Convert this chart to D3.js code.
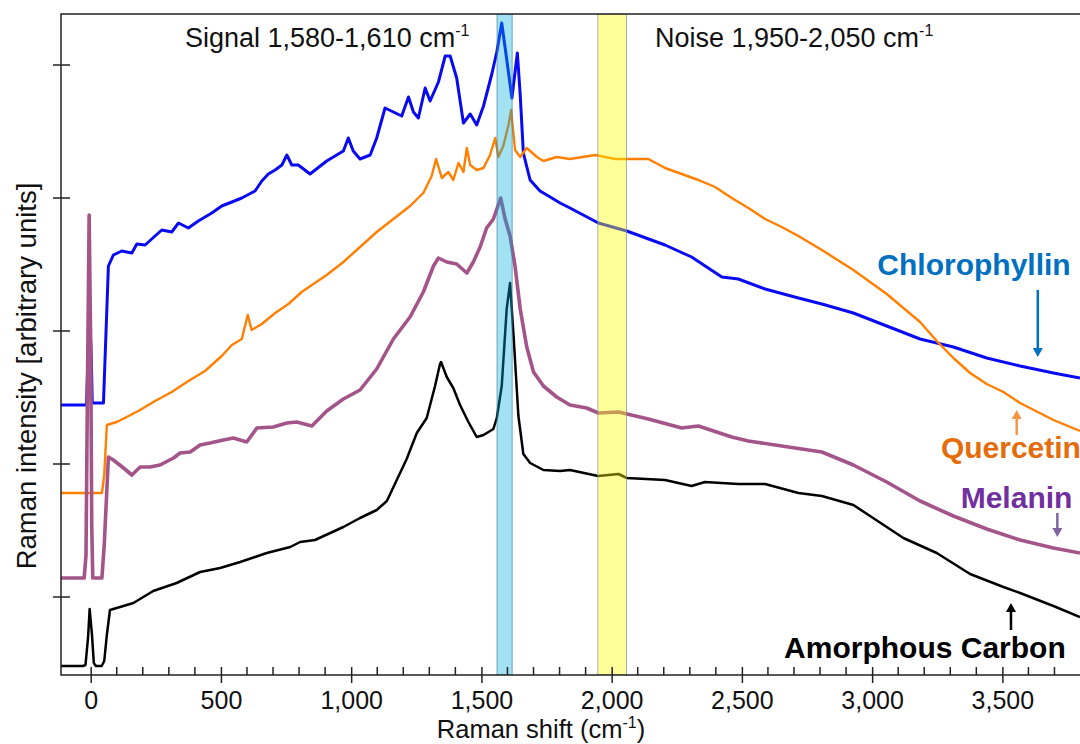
<!DOCTYPE html>
<html><head><meta charset="utf-8">
<script src="https://cdn.jsdelivr.net/npm/d3@7"></script>
<style>html,body{margin:0;padding:0;background:#fff;} svg{display:block;font-family:"Liberation Sans",Arial,sans-serif;}</style>
</head><body><svg id="c" width="1080" height="744"></svg>
<script>
// ---- data (Raman shift in cm-1, intensity in arbitrary units) ----
const chlShift = [-114,-16,-8,-4,2,6,49,68,87,119,158,177,209,247,273,311,337,375,413,465,503,542,580,631,657,682,708,734,753,772,797,842,906,970,989,1008,1034,1073,1098,1130,1162,1194,1220,1239,1258,1284,1303,1335,1361,1380,1405,1431,1457,1482,1508,1540,1559,1578,1598,1617,1638,1649,1661,1687,1725,1764,1802,1840,1949,2058,2205,2307,2359,2423,2486,2589,2717,2807,2928,3056,3184,3312,3440,3568,3696,3798];
const chlIntensity = [270,270,340,360,320,272,272,409,420,424,422,431,430,439,445,443,452,447,454,462,469,473,477,484,494,501,505,510,520,510,510,501,514,524,537,524,516,520,537,567,563,559,578,563,557,587,574,593,619,619,597,552,561,550,569,601,623,652,614,577,622,580,522,495,484,478,472,467,452,444,430,418,409,398,396,386,377,371,362,349,336,328,317,309,302,297];

const queShift = [-114,43,52,62,100,183,247,311,375,439,503,542,580,603,618,657,708,759,810,849,906,970,1034,1098,1162,1226,1277,1309,1326,1348,1373,1392,1412,1431,1444,1457,1482,1508,1533,1553,1565,1584,1604,1614,1629,1649,1674,1713,1738,1789,1840,1937,2013,2141,2205,2269,2333,2397,2461,2525,2589,2653,2717,2807,2928,3056,3184,3248,3312,3376,3440,3504,3568,3696,3798];
const queIntensity = [182,182,200,250,253,264,274,283,294,304,319,330,336,360,345,351,362,371,383,390,400,413,428,443,456,469,482,499,516,497,503,495,512,503,527,510,505,507,520,537,518,529,550,565,525,518,527,518,514,518,516,520,516,516,507,501,495,488,477,467,456,448,439,425,405,381,353,334,317,302,291,283,272,255,244];

const melShift = [-114,-25,-18,-12,-6,0,4,8,43,52,68,87,126,158,190,228,266,318,343,382,420,458,509,548,599,638,701,753,791,849,906,970,1034,1098,1162,1226,1277,1316,1335,1367,1405,1444,1469,1495,1520,1546,1574,1591,1610,1629,1649,1674,1700,1738,1789,1840,1904,1949,2026,2141,2269,2333,2461,2525,2653,2807,2928,3056,3184,3312,3440,3568,3696,3798];
const melIntensity = [97,97,120,300,460,330,150,97,97,130,218,215,207,200,208,208,210,217,222,223,230,232,235,237,233,247,248,252,253,249,264,276,285,306,336,358,383,409,417,413,411,402,413,428,447,456,477,456,439,409,366,328,303,289,278,270,267,262,263,256,247,249,238,234,229,223,210,193,174,159,146,135,127,122];

const carShift = [-114,-30,-20,-10,-4,5,12,20,42,52,62,74,87,164,240,330,420,497,574,676,766,804,861,970,1034,1098,1137,1175,1213,1252,1290,1322,1341,1345,1367,1392,1418,1450,1482,1508,1546,1559,1578,1597,1610,1623,1642,1661,1687,1738,1802,1840,1948,2026,2058,2205,2307,2358,2486,2589,2717,2807,2928,2992,3120,3248,3376,3504,3568,3696,3798];
const carIntensity = [9,9,10,38,66,40,12,9,9,14,40,65,66,72,84,92,103,107,113,122,128,133,135,148,157,165,174,195,216,242,257,289,311,313,298,287,270,253,238,240,246,257,289,366,392,341,259,221,212,205,204,205,199,201,197,195,189,193,191,191,182,179,170,159,137,122,101,88,82,69,58];

const signalBand = [1560, 1618];
const noiseBand = [1947, 2057];
const xMajorTicks = [0,500,1000,1500,2000,2500,3000,3500];
const xTickLabels = ["0","500","1,000","1,500","2,000","2,500","3,000","3,500"];
const xMinorTicks = [100,200,300,400,600,700,800,900,1100,1200,1300,1400,1600,1700,1800,1900,2100,2200,2300,2400,2600,2700,2800,2900,3100,3200,3300,3400,3600,3700];
const yTicks = [78,211,344,477,610];

// ---- layout ----
const pL=61, pR=1080, pT=14, pB=675;
const x = d3.scaleLinear().domain([-114,3798]).range([pL,pR]);
const y = d3.scaleLinear().domain([0,661]).range([pB,pT]);
const svg = d3.select("#c");

svg.append("defs").append("clipPath").attr("id","plot")
  .append("rect").attr("x",pL).attr("y",pT).attr("width",pR-pL).attr("height",pB-pT);

const series = [
  {name:"Chlorophyllin", xs:chlShift, ys:chlIntensity, color:"#0a0af0", w:3},
  {name:"Quercetin", xs:queShift, ys:queIntensity, color:"#ff7f00", w:2.4},
  {name:"Melanin", xs:melShift, ys:melIntensity, color:"#a3558a", w:3.6},
  {name:"Amorphous Carbon", xs:carShift, ys:carIntensity, color:"#000000", w:2.5}
];
const line = d3.line().x(d=>x(d[0])).y(d=>y(d[1]));
const g = svg.append("g").attr("clip-path","url(#plot)");
series.forEach(s=>{
  const pts = s.xs.map((v,i)=>[v,s.ys[i]]);
  g.append("path").datum(pts).attr("d",line).attr("fill","none")
    .attr("stroke",s.color).attr("stroke-width",s.w).attr("stroke-linejoin","round");
});

// bands (drawn over lines, translucent)
g.append("rect").attr("x",x(signalBand[0])).attr("width",x(signalBand[1])-x(signalBand[0]))
  .attr("y",pT).attr("height",pB-pT)
  .attr("fill","rgba(0,176,220,0.36)").attr("stroke","rgba(70,130,170,0.7)").attr("stroke-width",1);
g.append("rect").attr("x",x(noiseBand[0])).attr("width",x(noiseBand[1])-x(noiseBand[0]))
  .attr("y",pT).attr("height",pB-pT)
  .attr("fill","rgba(255,255,0,0.4)").attr("stroke","rgba(120,150,140,0.7)").attr("stroke-width",1);

// frame
svg.append("path").attr("d",`M${pR},${pT}H${pL}V${pB}H${pR}`)
  .attr("stroke","#222").attr("stroke-width",1.5).attr("fill","none");

// y ticks (crossing)
svg.append("g").selectAll("line").data(yTicks).join("line")
  .attr("x1",pL-8).attr("x2",pL+9).attr("y1",d=>y(d)).attr("y2",d=>y(d))
  .attr("stroke","#222").attr("stroke-width",1.5);

// x axis ticks
const xa = d3.axisBottom(x).tickValues(xMajorTicks).tickFormat((d,i)=>xTickLabels[i]).tickSize(8);
const axg = svg.append("g").attr("transform",`translate(0,${pB})`).call(xa);
axg.select(".domain").remove();
axg.selectAll(".tick line").attr("y1",-8).attr("y2",8).attr("stroke","#222").attr("stroke-width",1.5);
axg.selectAll(".tick text").attr("y",34).attr("dy",0).attr("fill","#111")
  .style("font-size","25px").style("font-family","'Liberation Sans',Arial,sans-serif");
svg.append("g").selectAll("line").data(xMinorTicks).join("line")
  .attr("x1",d=>x(d)).attr("x2",d=>x(d)).attr("y1",pB-8).attr("y2",pB)
  .attr("stroke","#222").attr("stroke-width",1.5);

// axis titles
const xt = svg.append("text").attr("x",541).attr("y",738).attr("text-anchor","middle")
  .attr("fill","#111").style("font-size","25.5px");
xt.append("tspan").text("Raman shift (cm");
xt.append("tspan").text("-1").attr("dy",-10).style("font-size","16px");
xt.append("tspan").text(")").attr("dy",10);

svg.append("text").attr("transform","translate(36,376) rotate(-90)").attr("text-anchor","middle")
  .attr("fill","#111").style("font-size","27.5px").text("Raman intensity [arbitrary units]");

// band labels
function supLabel(txt, xv){
  const t = svg.append("text").attr("x",x(xv)).attr("y",y(628)).attr("fill","#111").style("font-size","27px");
  t.append("tspan").text(txt);
  t.append("tspan").text("-1").attr("dy",-11).style("font-size","16px");
}
supLabel("Signal 1,580-1,610 cm", 362);
supLabel("Noise 1,950-2,050 cm", 2166);

// species labels and arrows
const labels = [
  {t:"Chlorophyllin", xv:3020, yv:400, c:"#0070c0", ax:3636, ay0:385, ay1:318, ac:"#0070c0"},
  {t:"Quercetin", xv:3264, yv:217, c:"#e46c0a", ax:3555, ay0:240, ay1:265, ac:"#f79646"},
  {t:"Melanin", xv:3340, yv:167, c:"#7030a0", ax:3711, ay0:162, ay1:138, ac:"#8064a2"},
  {t:"Amorphous Carbon", xv:2662, yv:17, c:"#000000", ax:3533, ay0:45, ay1:72, ac:"#000000"}
];
labels.forEach(l=>{
  svg.append("text").attr("x",x(l.xv)).attr("y",y(l.yv)).attr("fill",l.c)
    .style("font-size","30px").style("font-weight","bold").text(l.t);
  const X = x(l.ax), Y0 = y(l.ay0), Y1 = y(l.ay1);
  const dir = Y1 > Y0 ? 1 : -1;
  const hl = 9, hw = 5;
  svg.append("line").attr("x1",X).attr("x2",X).attr("y1",Y0).attr("y2",Y1-dir*hl)
    .attr("stroke",l.ac).attr("stroke-width",2.5);
  svg.append("path").attr("d",`M${X},${Y1}L${X-hw},${Y1-dir*hl}L${X+hw},${Y1-dir*hl}Z`).attr("fill",l.ac);
});
</script></body></html>
